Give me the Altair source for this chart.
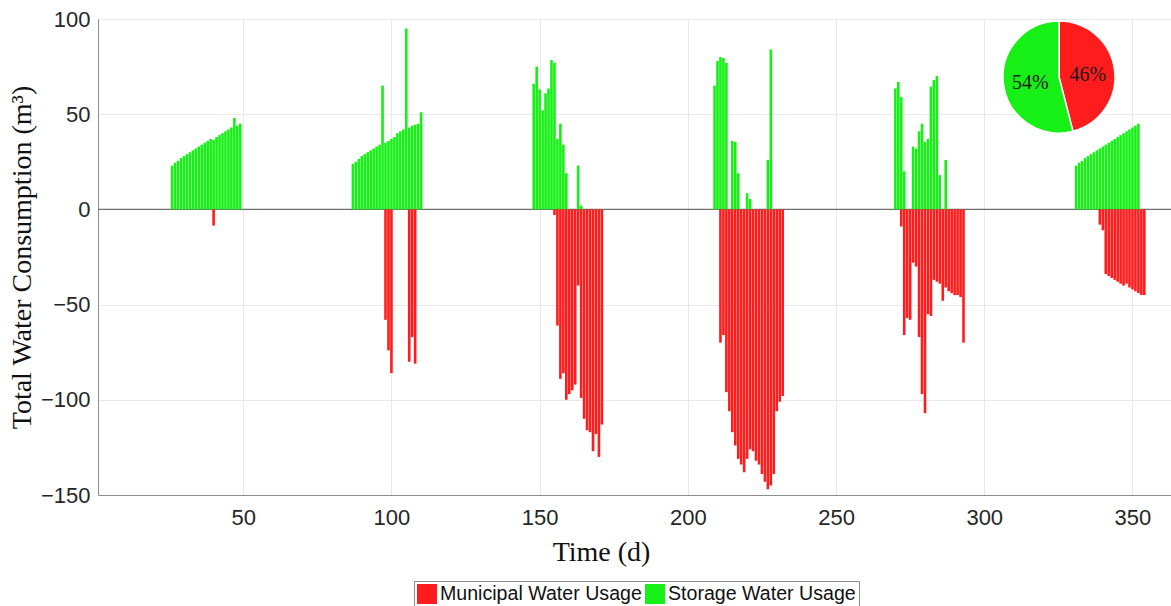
import altair as alt
import pandas as pd

# Daily storage-tank usage (positive) per irrigation period: (first day, daily values in m3)
storage_periods = [
    (26, [23, 24.5, 25.5, 27, 28, 29, 30, 31, 32, 33, 34, 35, 36, 37, 36.5, 38, 39, 40, 41, 42, 43, 48, 44, 45]),
    (87, [24, 25, 26.5, 28, 29, 30, 31, 32, 33, 34, 65, 35, 36, 37, 38, 40, 41, 42, 95, 43, 44, 44.5, 45, 51]),
    (148, [66, 75, 63, 52, 61, 63.5, 78.5, 77, 37, 45, 34, 19, 0, 0, 0, 23, 2]),
    (209, [65, 78, 80, 79.5, 77, 0, 36, 35.5, 19, 0, 0, 8.5, 5.5, 0, 0, 0, 0, 0, 26, 84]),
    (270, [63.5, 67, 59, 20, 0, 0, 33, 32, 41, 45, 35.5, 37, 64.5, 68, 70, 18, 0, 26]),
    (331, [23, 24.5, 25.5, 27, 28, 29, 30, 31, 32, 33, 34, 35, 36, 37, 38, 39, 40, 41, 42, 43, 44, 45]),
]

# Daily municipal supply (negative) per period: (first day, daily values in m3)
municipal_periods = [
    (40, [-8.5]),
    (98, [-58, -74, -86]),
    (106, [-80, -67, -81]),
    (155, [-3, -61, -89, -86, -100, -97, -95, -92, -40, -99, -110, -116, -117, -127, -118, -130, -113]),
    (211, [-70, -66, -96, -106, -117, -124, -131, -134, -138, -131, -126, -127, -132, -134, -139, -143,
           -147, -145, -139, -106, -101, -98]),
    (272, [-9, -66, -57, -58, -28, -30, -67, -97, -107, -55, -56, -37, -38, -39, -48, -41, -43, -44,
           -45, -45, -46, -70]),
    (339, [-8, -11, -34, -35, -36, -37, -38, -39, -40, -39, -41, -42, -43, -44, -45, -45]),
]

series_names = ["Municipal Water Usage", "Storage Water Usage"]
series_colors = ["#ff1c1c", "#16f016"]
share_values = [46, 54]

y_ticks = [-150, -100, -50, 0, 50, 100]
x_ticks = [50, 100, 150, 200, 250, 300, 350]

rows = []
for name, periods in ((series_names[1], storage_periods), (series_names[0], municipal_periods)):
    for first_day, values in periods:
        for i, v in enumerate(values):
            if v != 0:
                rows.append({"day": first_day + i, "value": v, "series": name})
bars_df = pd.DataFrame(rows)

pie_df = pd.DataFrame({
    "series": series_names,
    "share": share_values,
    "k": [0, 1],
    "label": [f"{v}%" for v in share_values],
})

color_enc = alt.Color(
    "series:N",
    scale=alt.Scale(domain=series_names, range=series_colors),
    legend=alt.Legend(
        title=None,
        orient="none",
        legendX=316,
        legendY=562,
        direction="horizontal",
        symbolType="square",
        symbolSize=400,
        symbolStrokeWidth=0,
        symbolOpacity=1,
        labelFont="Liberation Sans",
        labelFontSize=19.6,
        labelColor="#111111",
        labelLimit=0,
        labelOffset=3,
        columnPadding=3,
        padding=3,
        strokeColor="#8c8c8c",
        fillColor="white",
    ),
)

x_enc = alt.X(
    "x0:Q",
    scale=alt.Scale(domain=[1, 363], nice=False, zero=False),
    axis=alt.Axis(
        values=x_ticks,
        title="Time (d)",
        titleFont="Liberation Serif",
        titleFontSize=28,
        titleFontWeight="normal",
        titleColor="#111111",
        titleX=503,
        titleY=57,
        titleBaseline="middle",
        labelFont="Liberation Sans",
        labelFontSize=22,
        labelColor="#262626",
        labelPadding=12,
        ticks=False,
        domainColor="#8c8c8c",
        gridColor="#e9e9e9",
    ),
)

y_enc = alt.Y(
    "value:Q",
    stack=None,
    scale=alt.Scale(domain=[-150, 100], nice=False),
    axis=alt.Axis(
        values=y_ticks,
        title="Total Water Consumption (m³)",
        titleFont="Liberation Serif",
        titleFontSize=28,
        titleFontWeight="normal",
        titleColor="#111111",
        titleX=-76,
        titleY=238,
        titleAngle=270,
        titleBaseline="middle",
        titleAlign="center",
        labelFont="Liberation Sans",
        labelFontSize=22,
        labelColor="#262626",
        labelPadding=8,
        ticks=False,
        domainColor="#8c8c8c",
        gridColor="#e9e9e9",
    ),
)

zero_line = alt.Chart(pd.DataFrame({"v": [0]})).mark_rule(color="#6f6f6f", strokeWidth=1.2).encode(
    y=alt.Y("v:Q")
)

bars = (
    alt.Chart(bars_df)
    .transform_calculate(x0="datum.day - 0.44", x1="datum.day + 0.44")
    .mark_bar()
    .encode(x=x_enc, x2="x1:Q", y=y_enc, y2=alt.datum(0), color=color_enc)
)

pie = (
    alt.Chart(pie_df)
    .mark_arc(outerRadius=56, stroke="white", strokeWidth=1.5)
    .encode(
        theta=alt.Theta("share:Q", stack=True),
        color=alt.Color("series:N"),
        order=alt.Order("k:Q"),
        x=alt.value(961),
        y=alt.value(58),
    )
)

pie_labels = (
    alt.Chart(pie_df)
    .mark_text(radius=29, font="Liberation Serif", fontSize=20, color="#1a1a1a", dy=2)
    .encode(
        theta=alt.Theta("share:Q", stack=True),
        text="label:N",
        order=alt.Order("k:Q"),
        x=alt.value(961),
        y=alt.value(58),
    )
)

chart = (
    alt.layer(zero_line, bars, pie, pie_labels)
    .properties(
        width=1073,
        height=476,
        autosize=alt.AutoSizeParams(type="none"),
        padding={"left": 98, "top": 19, "right": 0, "bottom": 111},
        background="white",
    )
    .configure_view(strokeWidth=0)
)

chart.save("out.html", embed_options={"renderer": "svg", "actions": False})
